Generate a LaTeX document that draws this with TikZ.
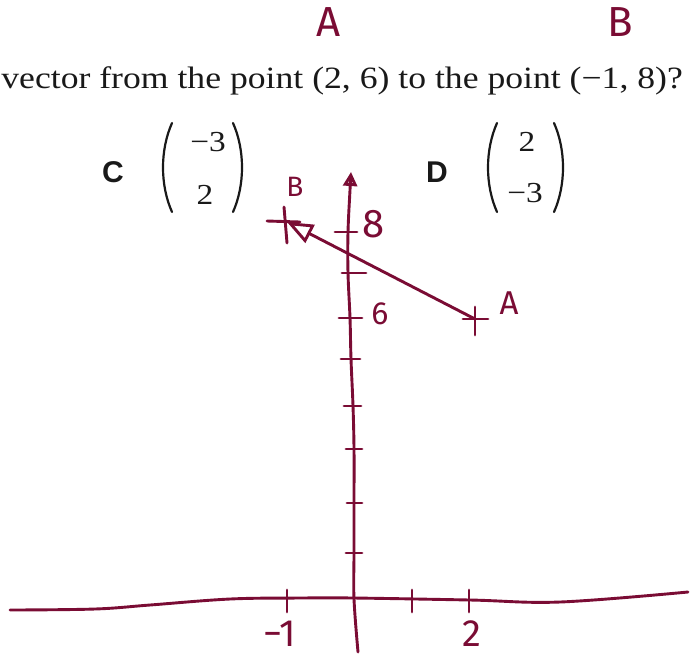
\documentclass[tikz,border=0pt]{standalone}
\usepackage{fontspec}
\setmainfont{Liberation Serif}
\newfontfamily\handfont{Fira Sans}
\newfontfamily\labfont{Liberation Sans}
\usetikzlibrary{arrows.meta}
\definecolor{ink}{RGB}{122,12,52}
\definecolor{printink}{RGB}{25,25,25}
\begin{document}
\begin{tikzpicture}[x=1pt,y=-1pt,
  pen/.style={draw=ink, line width=2.9pt, line cap=round, line join=round},
  hand/.style={text=ink, font=\handfont\fontsize{#1}{#1}\selectfont, inner sep=0pt},
  print/.style={text=printink, font=\fontsize{#1}{#1}\selectfont, inner sep=0pt},
  optlabel/.style={text=printink, font=\labfont\bfseries\fontsize{30}{30}\selectfont, inner sep=0pt},
  paren/.style={draw=printink, line width=2.2pt, line cap=round},
  opentip/.style={-{Triangle[open, length=#1, width=#1]}}
]
\useasboundingbox (0,0) rectangle (692,657);
\fill[white] (0,0) rectangle (692,657);

% handwritten labels above the question
\node[hand=42] (topA) at (329,22) {A};
\node[hand=42] (topB) at (620,22) {B};

% printed question
\node[print=31, anchor=base east] (question) at (683,88) {\scalebox{1.15}[1]{vector from the point (2, 6) to the point (−1, 8)?}};

% option C
\node[optlabel] (optC) at (113,172) {C};
\node[print=29] (c1) at (208,142) {\scalebox{1.15}[1]{−3}};
\node[print=29] (c2) at (205,195) {\scalebox{1.15}[1]{2}};
\draw[paren] (172,123) .. controls (160,150) and (160,185) .. (172,212);
\draw[paren] (233,123) .. controls (245,150) and (245,185) .. (233,212);

% option D
\node[optlabel] (optD) at (437,172) {D};
\node[print=29] (d1) at (527,142) {\scalebox{1.15}[1]{2}};
\node[print=29] (d2) at (525,193) {\scalebox{1.15}[1]{−3}};
\draw[paren] (497,123) .. controls (485,150) and (485,185) .. (497,212);
\draw[paren] (554,123) .. controls (566,150) and (566,185) .. (554,212);

% x-axis
\draw[pen] plot[smooth, tension=0.6] coordinates {(10,610) (95,609) (150,605) (230,599) (300,598) (354,598) (470,600) (560,602) (688,592)};
% y-axis
\coordinate (ytip) at (351,172);
\draw[pen, opentip=14pt] plot[smooth, tension=0.6] coordinates {(358,652) (354,599) (354,553) (354,503) (354,449) (353,406) (351,359) (350,318) (348,273) (348,232) (350,190) (ytip)};

% y ticks
\foreach \y/\a/\b in {232/335/357, 273/342/366, 318/339/362, 359/341/360, 406/344/361, 449/346/362, 503/347/362, 553/346/362}
  \draw[pen] (\a,\y) -- (\b,\y);
% x ticks
\foreach \x in {287, 412, 469}
  \draw[pen] (\x,590) -- (\x,612);

% axis labels
\node[hand=40] (l8) at (374,224) {8};
\node[hand=32] (l6) at (380,314) {6};
\node[hand=38] (lm1) at (280,634) {−1};
\node[hand=38] (l2) at (472,634) {2};

% points
\coordinate (A) at (475,319);
\coordinate (B) at (287,222);
\draw[pen] (463,319) -- (488,319);
\draw[pen] (475,307) -- (475,335);
\draw[pen] (267,221) -- (300,222);
\draw[pen] (284,207) -- (287,243);
\node[hand=28] (lB) at (295,187) {B};
\node[hand=33] (lA) at (509,303) {A};

% vector from A to B
\draw[pen, -{Triangle[open, length=26pt, width=20pt]}] (A) -- (B);
\end{tikzpicture}
\end{document}
